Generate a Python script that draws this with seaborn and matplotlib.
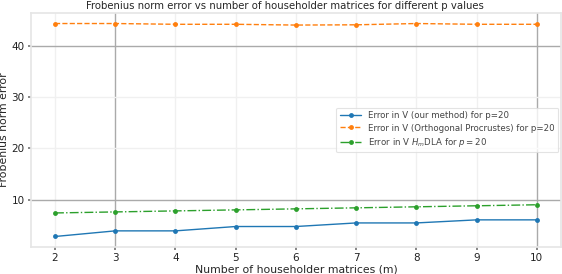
import numpy as np
import matplotlib
matplotlib.use("Agg")
import matplotlib.pyplot as plt
import seaborn as sns
import pandas as pd

# data
m_values = [2, 3, 4, 5, 6, 7, 8, 9, 10]
err_ours = [2.8, 3.9, 3.9, 4.75, 4.75, 5.45, 5.45, 6.05, 6.05]
err_procrustes = [44.4, 44.4, 44.25, 44.25, 44.1, 44.15, 44.4, 44.25, 44.25]
err_hmdla = [7.4, 7.6, 7.8, 8.0, 8.2, 8.4, 8.6, 8.8, 9.0]

label_ours = "Error in V (our method) for p=20"
label_proc = "Error in V (Orthogonal Procrustes) for p=20"
label_hmdla = "Error in V $H_m$DLA for $p=20$"

sns.set_theme(style="whitegrid")
plt.rcParams["font.family"] = ["DejaVu Sans"]
plt.rcParams["axes.edgecolor"] = "#e6e6e6"
plt.rcParams["grid.color"] = "#f0f0f0"
plt.rcParams["xtick.bottom"] = True
plt.rcParams["ytick.left"] = True
plt.rcParams["xtick.major.size"] = 2.5
plt.rcParams["ytick.major.size"] = 2.5

fig, ax = plt.subplots(figsize=(5.62, 2.74), dpi=100)
fig.subplots_adjust(left=0.055, right=0.998, top=0.953, bottom=0.098)

pal = sns.color_palette("tab10")
sns.lineplot(x=m_values, y=err_ours, marker="o", markersize=3.5, markeredgewidth=0,
             linewidth=1, color=pal[0], label=label_ours, ax=ax)
sns.lineplot(x=m_values, y=err_procrustes, marker="o", markersize=3.5, markeredgewidth=0,
             linewidth=1, linestyle="--", color=pal[1], label=label_proc, ax=ax)
sns.lineplot(x=m_values, y=err_hmdla, marker="o", markersize=3.5, markeredgewidth=0,
             linewidth=1, linestyle="-.", color=pal[2], label=label_hmdla, ax=ax)

ax.set_xticks(m_values)
ax.set_yticks([10, 20, 30, 40])
ax.tick_params(axis="both", labelsize=7.5, labelcolor="#222222", pad=2, color="#777777")
ax.set_xlabel("Number of householder matrices (m)", fontsize=7.8, labelpad=1)
ax.set_ylabel("Frobenius norm error", fontsize=7.8, labelpad=2)
ax.set_title("Frobenius norm error vs number of householder matrices for different p values",
             fontsize=7.3, pad=2.5, x=0.48)

# some grid lines look darker in the reference
for gl, t in zip(ax.get_xgridlines(), ax.get_xticks()):
    if t in (3, 10):
        gl.set_color("#aaaaaa")
for gl, t in zip(ax.get_ygridlines(), ax.get_yticks()):
    if t in (10, 40):
        gl.set_color("#aaaaaa")

leg = ax.legend(loc="center right", fontsize=6.2, frameon=True, borderaxespad=0.3,
                handlelength=2.5, labelspacing=0.4)
leg.get_frame().set_edgecolor("#dddddd")
leg.get_frame().set_linewidth(0.8)
for t in leg.get_texts():
    t.set_color("#444444")

fig.savefig("out.png", dpi=100)
